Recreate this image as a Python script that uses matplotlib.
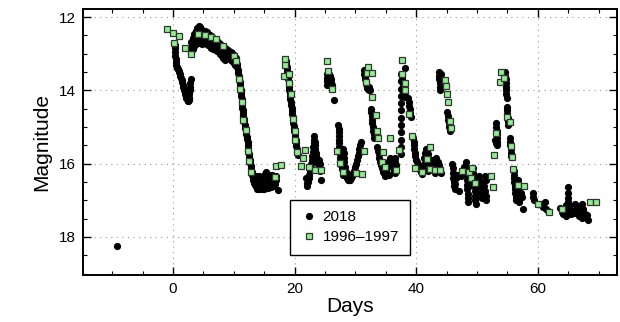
import matplotlib
matplotlib.use("Agg")
import matplotlib.pyplot as plt
from matplotlib.ticker import MultipleLocator

# ---- 2018 light curve as (day, magnitude) ----
pre_2018 = [(-9.3, 18.25)]

dip_2018 = [(0.3, 12.75), (0.32, 12.85), (0.35, 12.95), (0.4, 13.05), (0.45, 13.15), (0.5, 13.22),
            (0.55, 13.3), (0.6, 13.35), (0.7, 13.4), (0.8, 13.43), (0.9, 13.47), (1.0, 13.5),
            (1.1, 13.55), (1.2, 13.6), (1.3, 13.66), (1.4, 13.72), (1.5, 13.78), (1.6, 13.85),
            (1.7, 13.92), (1.8, 13.98), (1.9, 14.05), (2.0, 14.1), (2.1, 14.15), (2.2, 14.2),
            (2.3, 14.24), (2.4, 14.28), (2.5, 14.3), (2.6, 14.26), (2.65, 14.2), (2.7, 14.1),
            (2.75, 14.0), (2.8, 13.9), (2.85, 13.8), (2.9, 13.7), (2.55, 14.22), (2.45, 14.15)]

plat_days = [3.0, 3.25, 3.5, 3.75, 4.0, 4.25, 4.5, 4.75, 5.0, 5.25, 5.5, 5.75, 6.0, 6.25, 6.5,
             6.75, 7.0, 7.25, 7.5, 7.75, 8.0, 8.25, 8.5, 8.75, 9.0, 9.25, 9.5, 9.75, 10.0, 10.25]
plat_top = [12.68, 12.56, 12.47, 12.38, 12.3, 12.24, 12.28, 12.34, 12.37, 12.38, 12.42, 12.46,
            12.48, 12.52, 12.56, 12.6, 12.63, 12.66, 12.7, 12.74, 12.78, 12.8, 12.84, 12.87,
            12.9, 12.94, 12.96, 12.99, 13.03, 13.08]
plat_mid = [12.82, 12.72, 12.63, 12.56, 12.5, 12.46, 12.5, 12.54, 12.55, 12.54, 12.58, 12.61,
            12.64, 12.68, 12.71, 12.72, 12.76, 12.8, 12.83, 12.88, 12.92, 12.96, 13.0, 12.98,
            12.99, 13.03, 13.06, 13.1, 13.13, 13.19]
plat_low = [12.95, 12.88, 12.8, 12.74, 12.7, 12.68, 12.72, 12.74, 12.72, 12.7, 12.73, 12.76,
            12.8, 12.84, 12.86, 12.85, 12.9, 12.93, 12.96, 13.02, 13.06, 13.12, 13.16, 13.1,
            13.08, 13.12, 13.16, 13.2, 13.24, 13.3]

fall_2018 = [(10.3, 13.12), (10.4, 13.2), (10.5, 13.28), (10.58, 13.36), (10.65, 13.44), (10.72, 13.52),
             (10.8, 13.6), (10.87, 13.68), (10.95, 13.76), (11.02, 13.84), (11.08, 13.92), (11.12, 14.0),
             (11.17, 14.08), (11.22, 14.16), (11.26, 14.24), (11.3, 14.32), (11.35, 14.4), (11.4, 14.48),
             (11.46, 14.55), (11.52, 14.62), (11.58, 14.7), (11.64, 14.78), (11.7, 14.86), (11.78, 14.94),
             (11.86, 15.02), (11.94, 15.1), (12.02, 15.18), (12.1, 15.26), (12.18, 15.34), (12.25, 15.42),
             (12.3, 15.5), (12.35, 15.58), (12.4, 15.66), (12.46, 15.74), (12.52, 15.82), (12.6, 15.9),
             (12.68, 15.98), (12.76, 16.06), (12.85, 16.14), (12.94, 16.22), (13.03, 16.3), (13.12, 16.38),
             (13.22, 16.46), (13.32, 16.52), (13.45, 16.58)]

low1_2018 = [(13.5, 16.45), (13.6, 16.62), (13.75, 16.55), (13.85, 16.68), (13.95, 16.45), (14.05, 16.6),
             (14.15, 16.7), (14.25, 16.52), (14.35, 16.64), (14.45, 16.4), (14.55, 16.55), (14.65, 16.68),
             (14.75, 16.48), (14.85, 16.6), (14.95, 16.38), (15.05, 16.5), (15.15, 16.62), (15.2, 16.28),
             (15.3, 16.22), (15.4, 16.4), (15.5, 16.55), (15.6, 16.66), (15.7, 16.45), (15.8, 16.32),
             (15.9, 16.5), (16.0, 16.62), (16.1, 16.42), (16.2, 16.3), (16.3, 16.5), (16.4, 16.6),
             (16.5, 16.45), (16.6, 16.35), (16.7, 16.55), (16.85, 16.45), (17.0, 16.35), (17.3, 16.72),
             (14.1, 16.35), (15.0, 16.7), (15.45, 16.3), (16.15, 16.65), (13.65, 16.35)]

burst1_2018 = [(18.55, 13.2), (18.62, 13.28), (18.7, 13.36), (18.76, 13.44), (18.82, 13.52), (18.88, 13.6),
               (18.94, 13.68), (19.0, 13.76), (19.05, 13.84), (19.1, 13.92), (19.15, 14.0), (19.2, 14.08),
               (19.25, 14.16), (19.3, 14.24), (19.36, 14.32), (19.42, 14.4), (19.48, 14.48), (19.54, 14.56),
               (19.6, 14.64), (19.66, 14.72), (19.72, 14.8), (19.78, 14.88), (19.84, 14.96), (19.9, 15.04),
               (19.96, 15.12), (20.02, 15.2), (20.08, 15.28), (20.14, 15.36), (20.2, 15.44), (20.28, 15.52),
               (20.36, 15.6), (20.44, 15.68), (20.52, 15.76),
               (21.9, 16.4), (22.0, 16.52), (22.1, 16.6), (22.2, 16.5), (22.3, 16.4), (22.4, 16.3),
               (22.5, 16.2), (22.6, 16.1), (22.7, 16.0), (22.8, 15.9), (22.9, 15.8), (23.0, 15.68),
               (23.05, 15.55), (23.1, 15.45), (23.15, 15.35), (23.2, 15.25), (23.3, 15.4), (23.35, 15.5),
               (23.4, 15.6), (23.45, 15.7), (23.5, 15.8), (23.6, 15.9), (23.7, 15.98), (23.85, 15.95),
               (24.0, 15.9), (24.1, 16.0), (24.2, 16.2), (24.3, 16.45)]

burst2_2018 = [(25.25, 13.55), (25.28, 13.65), (25.3, 13.75), (25.33, 13.85), (25.45, 13.7), (25.6, 13.8),
               (25.7, 13.55), (25.8, 13.62), (25.9, 13.7), (26.0, 13.78), (26.1, 13.86), (26.2, 13.93),
               (26.55, 14.25),
               (27.2, 14.95), (27.22, 15.05), (27.24, 15.15), (27.26, 15.25), (27.28, 15.35), (27.3, 15.45),
               (27.33, 15.55), (27.36, 15.65), (27.4, 15.75), (27.45, 15.85), (27.5, 15.95), (27.6, 16.05),
               (27.75, 16.15), (27.9, 16.3), (28.0, 15.6), (28.05, 15.72), (28.1, 15.84), (28.15, 15.96),
               (28.25, 16.08), (28.35, 16.2), (28.45, 16.3), (28.55, 16.38), (28.7, 16.42), (28.85, 16.45),
               (29.0, 16.46), (29.15, 16.44), (29.3, 16.4), (29.45, 16.35), (29.6, 16.28), (29.75, 16.2),
               (29.9, 16.1), (30.05, 16.0), (30.2, 15.9), (30.35, 15.8), (30.5, 15.7), (30.65, 15.6),
               (30.8, 15.5), (30.95, 15.42), (29.1, 16.3), (28.6, 16.25)]

burst3_2018 = [(31.4, 13.45), (31.45, 13.55), (31.5, 13.63), (31.58, 13.7), (31.66, 13.76), (31.75, 13.82),
               (31.85, 13.88), (31.95, 13.93), (32.05, 13.97), (32.15, 14.0), (32.3, 13.9), (32.4, 14.0),
               (32.55, 14.5), (32.6, 14.6), (32.66, 14.7), (32.72, 14.8), (32.78, 14.9), (32.85, 15.0),
               (32.92, 15.1), (33.0, 15.2), (33.1, 15.3),
               (33.6, 15.55), (33.7, 15.65), (33.8, 15.75), (33.9, 15.85), (34.0, 15.95), (34.15, 16.05),
               (34.3, 16.12), (34.45, 16.18), (34.6, 16.22), (34.75, 16.25), (34.9, 16.27), (35.05, 16.2),
               (35.2, 16.1), (35.35, 16.0), (35.5, 15.92), (35.65, 15.85), (35.8, 15.9), (35.95, 15.98),
               (36.1, 16.05), (36.25, 16.12), (36.4, 16.2), (36.55, 16.25), (36.5, 15.85), (36.55, 15.95),
               (36.6, 16.05), (34.8, 16.35), (35.5, 16.3)]

burst4_2018 = [(37.5, 13.55), (37.5, 13.75), (37.5, 13.95), (37.5, 14.15), (37.5, 14.35), (37.5, 14.55),
               (37.5, 14.75), (37.5, 14.95), (37.5, 15.15), (37.5, 15.35), (37.5, 15.55), (37.5, 15.75),
               (38.1, 13.38), (37.6, 13.62), (37.7, 13.7), (37.8, 13.78), (37.9, 13.88), (38.0, 13.98),
               (38.1, 14.08), (38.2, 14.18), (38.7, 14.22), (38.78, 14.32), (38.86, 14.42), (38.94, 14.52),
               (39.02, 14.62), (39.1, 14.72), (39.45, 15.3), (39.55, 15.4), (39.62, 15.5), (39.7, 15.6),
               (39.78, 15.7), (39.86, 15.8), (39.95, 15.9),
               (40.1, 15.95), (40.3, 16.05), (40.5, 16.15), (40.7, 16.22), (40.9, 16.28), (41.1, 16.15),
               (41.25, 16.0), (41.35, 15.85), (41.45, 15.7), (41.55, 15.6), (41.7, 15.65), (41.85, 15.75),
               (42.0, 15.85), (42.15, 15.95), (42.3, 16.05), (42.5, 16.12), (42.7, 16.18), (42.9, 16.1),
               (43.1, 15.95), (43.3, 15.85), (43.5, 15.95), (43.7, 16.05), (43.9, 16.15), (44.05, 16.25),
               (42.6, 15.9), (43.0, 16.25), (41.9, 16.2)]

burst5_2018 = [(43.75, 13.5), (43.78, 13.6), (43.8, 13.7), (43.83, 13.8), (43.86, 13.9), (43.9, 13.98),
               (44.05, 13.55), (44.1, 13.65), (44.15, 13.75), (44.2, 13.85), (45.1, 14.6), (45.18, 14.7),
               (45.26, 14.8), (45.34, 14.9), (45.42, 15.0), (45.5, 15.1),
               (45.95, 16.0), (46.0, 16.12), (46.05, 16.25), (46.1, 16.38), (46.15, 16.5), (46.2, 16.62),
               (46.3, 16.7), (46.45, 16.55), (46.6, 16.4), (46.75, 16.3), (47.0, 16.76), (47.3, 16.35),
               (47.6, 16.25), (47.9, 16.1), (48.1, 15.95), (48.15, 16.08), (48.2, 16.2), (48.25, 16.32),
               (48.3, 16.45), (48.35, 16.58), (48.4, 16.7), (48.45, 16.82), (48.5, 16.95), (48.55, 17.05),
               (48.7, 16.6), (48.85, 16.45), (49.0, 16.3), (49.15, 16.2), (49.3, 16.12), (49.4, 16.25),
               (49.45, 16.38), (49.5, 16.5), (49.55, 16.62), (49.6, 16.75), (49.65, 16.88), (49.7, 17.0),
               (49.8, 17.1), (49.9, 16.95), (50.0, 16.8), (50.1, 16.6), (50.2, 16.45), (50.3, 16.35),
               (50.5, 16.5), (50.6, 16.65), (50.7, 16.8), (50.8, 16.95), (50.95, 16.5), (51.1, 16.62),
               (51.25, 16.75), (51.4, 16.88), (51.5, 17.0), (51.3, 16.35), (51.45, 16.45)]

burst6_2018 = [(53.0, 15.35), (53.05, 15.45), (53.15, 14.9), (53.18, 15.0), (53.2, 15.1), (53.22, 15.2),
               (53.25, 15.3), (53.28, 15.4), (53.3, 15.5), (54.65, 13.5), (54.67, 13.6), (54.7, 13.7),
               (54.73, 13.8), (54.76, 13.9), (54.8, 14.0), (54.84, 14.1), (54.88, 14.2), (54.9, 14.45),
               (54.95, 14.55), (55.0, 14.65), (55.05, 14.75), (55.1, 14.85), (55.15, 14.95), (55.4, 15.3),
               (55.43, 15.4), (55.46, 15.5), (55.5, 15.6), (55.55, 15.7), (55.6, 15.8),
               (56.0, 16.2), (56.05, 16.3), (56.1, 16.4), (56.15, 16.5), (56.2, 16.6), (56.25, 16.7),
               (56.3, 16.8), (56.35, 16.9), (56.4, 17.0), (56.6, 16.75), (56.8, 16.85), (57.0, 16.95),
               (57.2, 16.8), (57.35, 16.9), (57.5, 17.25), (56.7, 16.45), (57.1, 16.6), (56.9, 17.05)]

tail_2018 = [(59.2, 16.8), (59.25, 16.9), (59.3, 17.0), (60.5, 17.1), (60.8, 17.18), (61.1, 17.05),
             (61.3, 17.25), (61.6, 17.3), (63.7, 17.22), (63.9, 17.32), (64.1, 17.38), (64.3, 17.3),
             (64.5, 17.2), (64.7, 17.12), (64.9, 17.05), (65.0, 16.95), (65.0, 16.8), (65.0, 16.65),
             (65.1, 17.15), (65.3, 17.3), (65.5, 17.38), (65.7, 17.3), (66.1, 17.1), (66.3, 17.25),
             (66.5, 17.35), (66.7, 17.42), (66.9, 17.3), (67.1, 17.18), (67.3, 17.1), (67.5, 17.25),
             (67.7, 17.38), (67.9, 17.45), (68.1, 17.4), (68.2, 17.55), (66.0, 17.35), (67.2, 17.48),
             (64.6, 17.42)]

# ---- 1996-1997 comparison light curve ----
days_9697 = [-1.04, -0.05, 0.16, 0.93, 1.92, 2.9, 4.06, 5.2, 6.2, 7.07, 8.17, 10.03, 10.36, 10.8, 10.96,
             11.35, 11.57, 12.0, 12.39, 12.55, 12.77, 16.72, 17.0, 17.8, 18.25, 18.42, 18.42, 19.0, 19.0,
             19.46, 19.7, 20.0, 20.06, 20.45, 21.05, 21.3, 21.76, 22.3, 23.4, 24.34, 25.38, 25.55, 26.15,
             27.03, 27.41, 27.9, 30.1, 31.03, 31.41, 31.68, 31.85, 32.0, 32.67, 32.78, 33.4, 33.6, 33.77,
             34.37, 34.5, 34.92, 35.69, 36.67, 37.17, 37.6, 37.7, 38.1, 38.15, 38.76, 39.25, 39.8, 40.95,
             41.7, 42.2, 42.27, 43.1, 43.9, 44.74, 44.85, 45.0, 45.3, 45.62, 45.78, 47.5, 48.6, 49.0, 49.1,
             49.7, 52.3, 52.7, 52.8, 53.1, 53.7, 54.0, 54.5, 55.0, 55.4, 55.6, 55.7, 55.9, 56.8, 57.7,
             60.1, 61.8, 63.9, 68.5, 69.6]
mag_9697 = [12.33, 12.43, 12.72, 12.51, 12.85, 13.0, 12.46, 12.49, 12.55, 12.6, 12.78, 13.05, 13.2, 13.68,
            13.96, 14.31, 14.82, 15.08, 15.65, 15.93, 16.23, 16.36, 16.07, 16.03, 13.6, 13.15, 13.3, 13.56,
            13.81, 14.09, 14.77, 15.1, 15.35, 15.69, 16.06, 15.84, 15.62, 16.08, 16.18, 16.17, 13.21, 13.46,
            13.97, 15.65, 15.97, 16.23, 16.26, 16.28, 15.65, 13.77, 13.52, 13.36, 13.52, 14.17, 14.66, 15.1,
            15.29, 15.96, 15.67, 16.08, 15.3, 16.17, 15.62, 13.17, 13.55, 13.8, 13.98, 14.65, 15.25, 16.11,
            16.23, 15.88, 16.16, 15.56, 16.17, 16.17, 13.72, 13.88, 14.1, 14.31, 14.84, 15.04, 16.21, 16.23,
            16.38, 16.13, 16.52, 16.35, 16.63, 15.76, 15.17, 13.78, 13.49, 13.67, 14.72, 14.87, 15.51, 15.83,
            16.14, 16.58, 16.61, 17.11, 17.33, 17.23, 17.05, 17.06]

# gather the 2018 pieces
pts = pre_2018 + dip_2018 + fall_2018 + low1_2018 + burst1_2018 + burst2_2018 \
    + burst3_2018 + burst4_2018 + burst5_2018 + burst6_2018 + tail_2018
days_2018 = [p[0] for p in pts] + plat_days * 3
mag_2018 = [p[1] for p in pts] + plat_top + plat_mid + plat_low

plt.rcParams['font.family'] = ['Liberation Sans', 'DejaVu Sans']

fig = plt.figure(figsize=(6.2, 3.22), dpi=100)
ax = fig.add_axes([0.134, 0.146, 0.861, 0.826])

ax.plot(days_2018, mag_2018, 'o', color='black', ms=5.2, mew=0, label='2018', zorder=2)
ax.plot(days_9697, mag_9697, 's', mfc='#90ee90', mec='#333333', mew=0.9, ms=4.6,
        label='1996\u20131997', zorder=3)

ax.set_xlim(-14.8, 73)
ax.set_ylim(19.04, 11.78)
ax.xaxis.set_major_locator(MultipleLocator(20))
ax.xaxis.set_minor_locator(MultipleLocator(5))
ax.yaxis.set_major_locator(MultipleLocator(2))
ax.yaxis.set_minor_locator(MultipleLocator(0.5))
ax.tick_params(which='both', direction='in', top=True, right=True, labelsize=11)
ax.tick_params(which='major', length=6, width=1, pad=5)
ax.tick_params(which='minor', length=3, width=0.8)
for s in ax.spines.values():
    s.set_linewidth(1.4)
ax.grid(True, which='major', linestyle=(0, (1, 4)), color='#999999', linewidth=0.8)

ax.set_xlabel('Days', fontsize=15, labelpad=1)
ax.set_ylabel('Magnitude', fontsize=15, labelpad=6)

leg = ax.legend(loc='lower center', bbox_to_anchor=(0.5, 0.075), borderaxespad=0,
                fancybox=False, edgecolor='black', framealpha=1, fontsize=11,
                handletextpad=0.4, borderpad=0.7, labelspacing=0.4, handlelength=1.0)
leg.get_frame().set_linewidth(1.0)

fig.savefig('out.png', dpi=100)
